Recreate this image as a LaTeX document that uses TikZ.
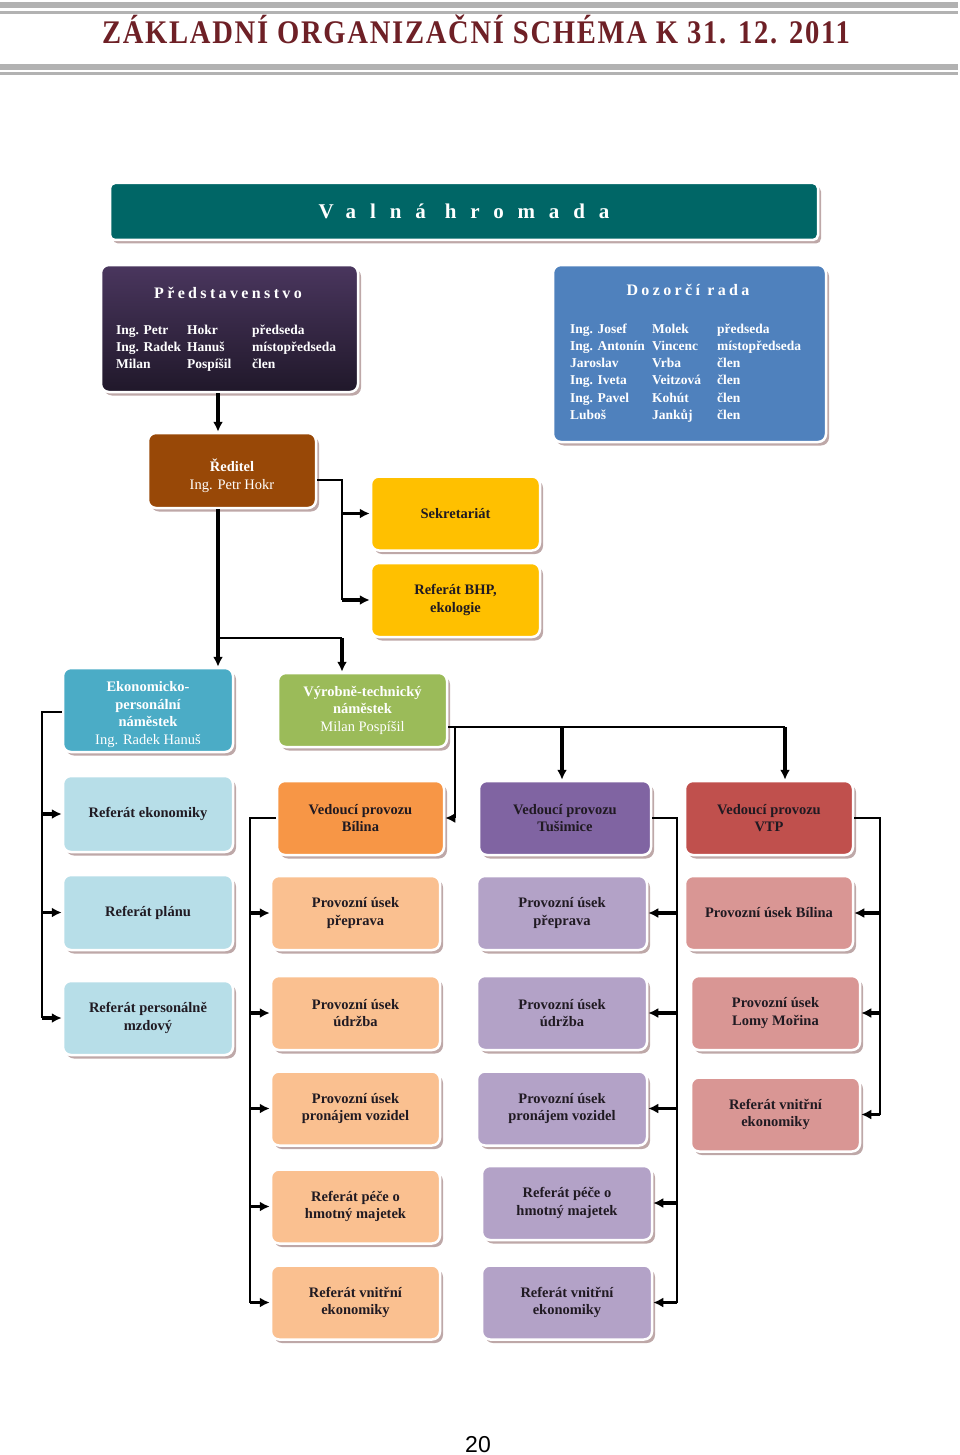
\documentclass[tikz,border=0pt]{standalone}
\usepackage{fontspec}
\usepackage{graphicx}
\setmainfont{Liberation Serif}
\newfontfamily\numfont{Liberation Sans}
\newfontfamily\wideserif[LetterSpace=66]{Liberation Serif}
\newfontfamily\hdrserif[LetterSpace=21]{Liberation Serif}
\newfontfamily\titleserif[LetterSpace=6]{Liberation Serif}
\usetikzlibrary{shapes, arrows.meta, positioning, calc, shadows}

\definecolor{titlered}{RGB}{110,32,38}
\definecolor{rulegray}{RGB}{178,178,178}
\definecolor{vhteal}{RGB}{0,102,102}
\definecolor{predtop}{RGB}{74,54,94}
\definecolor{predbot}{RGB}{32,24,42}
\definecolor{drblue}{RGB}{79,129,189}
\definecolor{redbrown}{RGB}{152,72,7}
\definecolor{sekgold}{RGB}{255,192,0}
\definecolor{ekblue}{RGB}{75,172,198}
\definecolor{vyrgreen}{RGB}{155,187,89}
\definecolor{ltblue}{RGB}{183,222,232}
\definecolor{bilorange}{RGB}{247,150,70}
\definecolor{ltorange}{RGB}{250,192,144}
\definecolor{tuspurple}{RGB}{128,100,162}
\definecolor{ltpurple}{RGB}{179,162,199}
\definecolor{vtpred}{RGB}{192,80,77}
\definecolor{ltred}{RGB}{217,150,148}
\definecolor{shadowc}{RGB}{190,168,168}
\definecolor{textdark}{RGB}{32,26,34}

\begin{document}
\begin{tikzpicture}[
    x=1pt, y=-1pt,
    >={Latex[length=10pt,width=10pt]},
    box/.style={draw=white, line width=2.5pt, rounded corners=8pt, minimum width=169pt, minimum height=74pt, align=center, inner sep=2pt, text=textdark, font=\fontsize{14.5}{17.5}\selectfont\bfseries, drop shadow={shadow xshift=3pt, shadow yshift=-3.5pt, fill=shadowc, opacity=1}},
    hdr/.style={text=white, font=\hdrserif\fontsize{16}{18}\selectfont\bfseries},
    members/.style={anchor=base west, inner sep=0pt, text=white, font=\fontsize{13.5}{17.3}\selectfont\bfseries},
    link/.style={line width=2pt},
    feed/.style={->, line width=3.2pt}
]
    \useasboundingbox (0,0) rectangle (960,1455);

    % header rules and title
    \fill[rulegray] (0,2) rectangle (958,8);
    \fill[rulegray] (0,11) rectangle (958,14);
    \fill[rulegray] (0,64) rectangle (958,70);
    \fill[rulegray] (0,72) rectangle (958,75);
    \node[anchor=base, text=titlered, inner sep=0pt] (Title) at (476,44) {\resizebox{748pt}{\height}{\titleserif\fontsize{33}{33}\selectfont\bfseries ZÁKLADNÍ ORGANIZAČNÍ SCHÉMA K 31. 12. 2011}};

    \node[box, fill=vhteal, text=white, minimum width=708pt, minimum height=57pt, rounded corners=5pt, font=\wideserif\fontsize{21}{22}\selectfont\bfseries] (VH) at (464,211.5) {Valná hromada};

    \node[box, top color=predtop, bottom color=predbot, minimum width=257pt, minimum height=127pt] (Pred) at (229.5,328.5) {};
    \node[hdr] (PredHdr) at (228,293) {Představenstvo};
    \node[members] (PredTab) at (116,334) {\begin{tabular}[t]{@{}p{71pt}@{}p{65pt}@{}l@{}}
      Ing. Petr & Hokr & předseda\\
      Ing. Radek & Hanuš & místopředseda\\
      Milan & Pospíšil & člen
    \end{tabular}};

    \node[box, fill=drblue, minimum width=273pt, minimum height=177pt] (DR) at (689.5,353.5) {};
    \node[hdr] (DRHdr) at (688,290) {Dozorčí rada};
    \node[members] (DRTab) at (570,333) {\begin{tabular}[t]{@{}p{82pt}@{}p{65pt}@{}l@{}}
      Ing. Josef & Molek & předseda\\
      Ing. Antonín & Vincenc & místopředseda\\
      Jaroslav & Vrba & člen\\
      Ing. Iveta & Veitzová & člen\\
      Ing. Pavel & Kohút & člen\\
      Luboš & Jankůj & člen
    \end{tabular}};

    \node[box, fill=redbrown, text=white, minimum width=168pt, minimum height=75pt] (Red) at (232,470.5) {\rule{0pt}{23pt}Ředitel\\\mdseries Ing. Petr Hokr};
    \node[box, fill=sekgold] (Sekr) at (455.5,513.5) {Sekretariát};
    \node[box, fill=sekgold] (BHP)  at (455.5,600) {Referát BHP,\\ekologie};

    \node[box, fill=ekblue, text=white, minimum width=170pt, minimum height=84pt] (EkNam) at (148,710) {\rule{0pt}{19pt}Ekonomicko-\\personální\\náměstek\\\mdseries Ing. Radek Hanuš};
    \node[box, fill=vyrgreen, text=white] (VyrNam) at (362.5,710) {Výrobně-technický\\náměstek\\\mdseries Milan Pospíšil};

    \node[box, fill=ltblue, minimum width=170pt, minimum height=76pt] (RefEko)  at (148,814) {Referát ekonomiky};
    \node[box, fill=ltblue, minimum width=170pt, minimum height=75pt] (RefPlan) at (148,912.5) {Referát plánu};
    \node[box, fill=ltblue, minimum width=170pt] (RefPers) at (148,1018) {Referát personálně\\mzdový};

    \node[box, fill=bilorange, minimum width=167pt] (VedBil) at (360.5,818) {Vedoucí provozu\\Bílina};
    \node[box, fill=ltorange] (BilPrep) at (355.5,913)    {Provozní úsek\\přeprava};
    \node[box, fill=ltorange] (BilUdr)  at (355.5,1013)   {Provozní úsek\\údržba};
    \node[box, fill=ltorange] (BilPron) at (355.5,1108.5) {Provozní úsek\\pronájem vozidel};
    \node[box, fill=ltorange] (BilPece) at (355.5,1206.5) {Referát péče o\\hmotný majetek};
    \node[box, fill=ltorange] (BilVnit) at (355.5,1302.5) {Referát vnitřní\\ekonomiky};

    \node[box, fill=tuspurple, minimum width=172pt] (VedTus) at (565,818) {Vedoucí provozu\\Tušimice};
    \node[box, fill=ltpurple, minimum width=170pt] (TusPrep) at (562,913)    {Provozní úsek\\přeprava};
    \node[box, fill=ltpurple, minimum width=170pt] (TusUdr)  at (562,1013)   {Provozní úsek\\údržba};
    \node[box, fill=ltpurple, minimum width=170pt] (TusPron) at (562,1108.5) {Provozní úsek\\pronájem vozidel};
    \node[box, fill=ltpurple, minimum width=170pt] (TusPece) at (567,1203)   {Referát péče o\\hmotný majetek};
    \node[box, fill=ltpurple, minimum width=170pt] (TusVnit) at (567,1302.5) {Referát vnitřní\\ekonomiky};

    \node[box, fill=vtpred, minimum width=168pt] (VedVTP) at (769,818) {Vedoucí provozu\\VTP};
    \node[box, fill=ltred, minimum width=168pt] (VtpBil)  at (769,913)    {Provozní úsek Bílina};
    \node[box, fill=ltred] (VtpLomy) at (775.5,1013)   {Provozní úsek\\Lomy Mořina};
    \node[box, fill=ltred] (VtpVnit) at (775.5,1114.5) {Referát vnitřní\\ekonomiky};

    \node[anchor=base, font=\numfont\fontsize{23}{23}\selectfont] (PageNo) at (478,1452) {20};

    % vedeni
    \coordinate (RedX) at (218,0);
    \draw[feed] (Pred.south -| RedX) -- (Red.north -| RedX);

    \coordinate (SekBus) at (342,480);
    \draw[link] (Red.east |- SekBus) -- (SekBus) -- (SekBus |- BHP.west);
    \draw[feed] (SekBus |- Sekr.west) -- (Sekr.west);
    \draw[feed] (SekBus |- BHP.west) -- (BHP.west);

    \coordinate (NamBus) at (218,638);
    \coordinate (VyrIn) at (342,638);
    \draw[feed] (Red.south -| NamBus) -- (EkNam.north -| NamBus);
    \draw[link] (NamBus) -- (VyrIn);
    \draw[feed] (VyrIn) -- (VyrIn |- VyrNam.north);

    % ekonomicko-personalni usek
    \coordinate (EkBus) at (42,712);
    \draw[link] (EkNam.west |- EkBus) -- (EkBus) -- (EkBus |- RefPers.west);
    \draw[feed] (EkBus |- RefEko.west) -- (RefEko.west);
    \draw[feed] (EkBus |- RefPlan.west) -- (RefPlan.west);
    \draw[feed] (EkBus |- RefPers.west) -- (RefPers.west);

    % vyrobne-technicky usek
    \coordinate (VyrBus) at (455,727);
    \coordinate (TusIn) at (562,727);
    \coordinate (VtpIn) at (785,727);
    \draw[link] (VyrNam.east |- VyrBus) -- (VtpIn);
    \draw[feed] (TusIn) -- (TusIn |- VedTus.north);
    \draw[feed] (VtpIn) -- (VtpIn |- VedVTP.north);
    \draw[link] (VyrBus) -- (VyrBus |- VedBil.east);
    \draw[feed] (VyrBus |- VedBil.east) -- (VedBil.east);

    \coordinate (BilBus) at (250,818);
    \draw[link] (VedBil.west) -- (BilBus) -- (BilBus |- BilVnit.west);
    \draw[feed] (BilBus |- BilPrep.west) -- (BilPrep.west);
    \draw[feed] (BilBus |- BilUdr.west) -- (BilUdr.west);
    \draw[feed] (BilBus |- BilPron.west) -- (BilPron.west);
    \draw[feed] (BilBus |- BilPece.west) -- (BilPece.west);
    \draw[feed] (BilBus |- BilVnit.west) -- (BilVnit.west);

    \coordinate (TusBus) at (677,818);
    \draw[link] (VedTus.east) -- (TusBus) -- (TusBus |- TusVnit.east);
    \draw[feed] (TusBus |- TusPrep.east) -- (TusPrep.east);
    \draw[feed] (TusBus |- TusUdr.east) -- (TusUdr.east);
    \draw[feed] (TusBus |- TusPron.east) -- (TusPron.east);
    \draw[feed] (TusBus |- TusPece.east) -- (TusPece.east);
    \draw[feed] (TusBus |- TusVnit.east) -- (TusVnit.east);

    \coordinate (VtpBus) at (880,818);
    \draw[link] (VedVTP.east) -- (VtpBus) -- (VtpBus |- VtpVnit.east);
    \draw[feed] (VtpBus |- VtpBil.east) -- (VtpBil.east);
    \draw[feed] (VtpBus |- VtpLomy.east) -- (VtpLomy.east);
    \draw[feed] (VtpBus |- VtpVnit.east) -- (VtpVnit.east);

\end{tikzpicture}
\end{document}
